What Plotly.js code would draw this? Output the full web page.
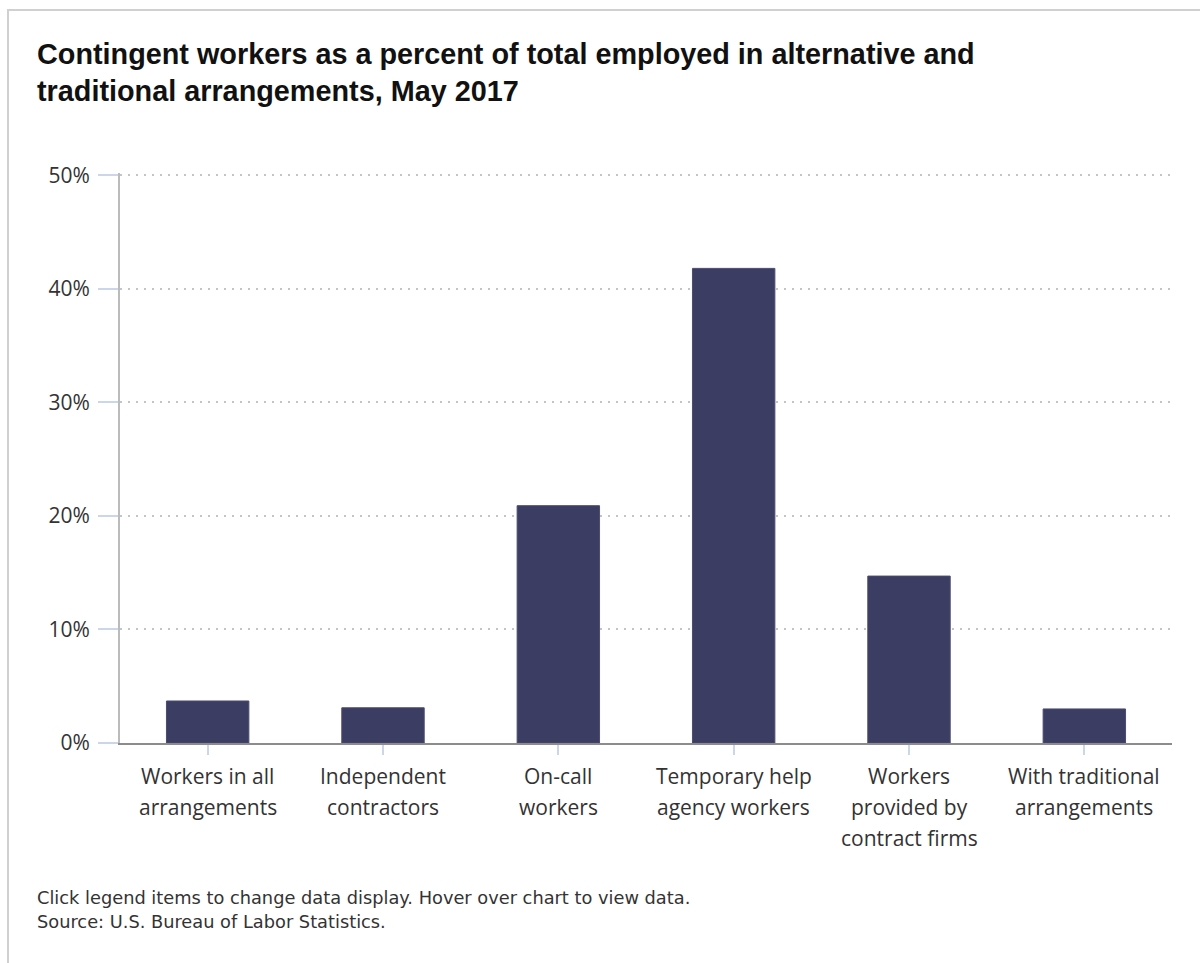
<!DOCTYPE html>
<html>
<head>
<meta charset="utf-8">
<script src="https://cdn.plot.ly/plotly-3.0.1.min.js"></script>
<style>
  html, body { margin: 0; padding: 0; background: #fff; }
  #chart { width: 1200px; height: 963px; }
  #frame { position: absolute; left: 7px; top: 9px; width: 1200px; height: 963px;
           border-top: 2px solid #d0d0d0; border-left: 2px solid #d0d0d0; pointer-events: none; }
</style>
</head>
<body>
<div id="chart"></div>
<div id="frame"></div>
<script>
// ---- data ----
const categories = [
  "Workers in all arrangements",
  "Independent contractors",
  "On-call workers",
  "Temporary help agency workers",
  "Workers provided by contract firms",
  "With traditional arrangements"
];
const labelLines = [
  ["Workers in all", "arrangements"],
  ["Independent", "contractors"],
  ["On-call", "workers"],
  ["Temporary help", "agency workers"],
  ["Workers", "provided by", "contract firms"],
  ["With traditional", "arrangements"]
];
const percentContingent = [3.7, 3.1, 20.9, 41.8, 14.7, 3.0];
const yTickValues = [0, 10, 20, 30, 40, 50];
const yTickLabels = ["0%", "10%", "20%", "30%", "40%", "50%"];
const titleText = "Contingent workers as a percent of total employed in alternative and<br>traditional arrangements, May 2017";
const footerLines = [
  "Click legend items to change data display. Hover over chart to view data.",
  "Source: U.S. Bureau of Labor Statistics."
];

// ---- layout geometry ----
const W = 1200, H = 963;
const M = { l: 120, r: 28, t: 173, b: 220 };
const pw = W - M.l - M.r, ph = H - M.t - M.b;
const px2x = px => (px - M.l) / pw;
const px2y = py => (H - M.b - py) / ph;

const textColor = "#333333";
const tickFont = { family: "Open Sans, sans-serif", size: 21, color: textColor };

const annotations = [];
labelLines.forEach((lines, i) => {
  lines.forEach((ln, j) => {
    annotations.push({
      xref: "x", yref: "paper",
      x: categories[i], y: px2y(776 + j * 31),
      text: ln, showarrow: false,
      xanchor: "center", yanchor: "middle",
      font: tickFont
    });
  });
});
footerLines.forEach((ln, j) => {
  annotations.push({
    xref: "paper", yref: "paper",
    x: px2x(35), y: px2y(897 + j * 24),
    text: ln, showarrow: false,
    xanchor: "left", yanchor: "middle",
    font: { family: "DejaVu Sans, sans-serif", size: 17.8, color: textColor }
  });
});

const trace = {
  type: "bar",
  x: categories,
  y: percentContingent,
  width: 0.47,
  marker: { color: "#3c3d62", line: { color: "#4a4b70", width: 1 } },
  hovertemplate: "%{x}: %{y}%<extra></extra>"
};

const layout = {
  width: W, height: H,
  margin: M,
  paper_bgcolor: "#ffffff",
  plot_bgcolor: "#ffffff",
  showlegend: false,
  title: {
    text: titleText,
    xref: "container", yref: "container",
    x: 37 / W, xanchor: "left",
    y: 1 - 64 / H, yanchor: "top",
    font: { family: "Liberation Sans, Arial, sans-serif", size: 28.8, color: "#111111", weight: "bold" }
  },
  xaxis: {
    type: "category",
    showticklabels: false,
    ticks: "outside", ticklen: 10, tickwidth: 1.5, tickcolor: "#ccd6eb",
    showline: true, linecolor: "#8c8c8c", linewidth: 2,
    showgrid: false, zeroline: false,
    fixedrange: true
  },
  yaxis: {
    range: [0, 50.2],
    tickvals: yTickValues, ticktext: yTickLabels,
    ticks: "outside", ticklen: 20, tickwidth: 1.5, tickcolor: "#ccd6eb",
    ticklabelstandoff: 4,
    tickfont: tickFont,
    showline: true, linecolor: "#bbbbbb", linewidth: 2,
    showgrid: true, gridcolor: "#c4c4c4", gridwidth: 1.8, griddash: "2px,6px",
    zeroline: false,
    fixedrange: true
  },
  annotations: annotations
};

Plotly.newPlot("chart", [trace], layout, { displayModeBar: false, responsive: false });
</script>
</body>
</html>
